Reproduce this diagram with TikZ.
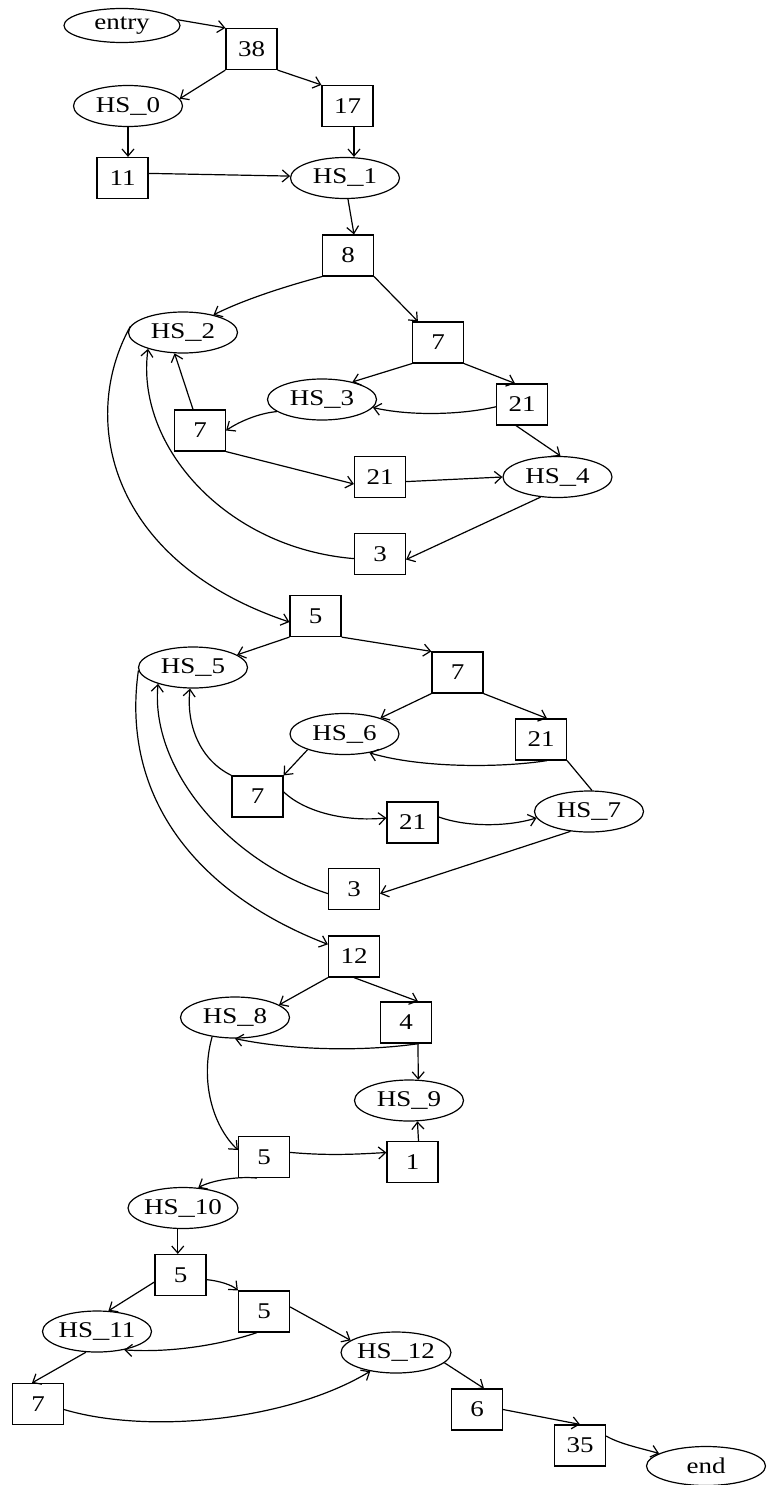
\documentclass[tikz,border=0pt]{standalone}
\usepackage{fontspec}
\usepackage{graphicx}
\setmainfont{Liberation Serif}[FakeStretch=1.2]
\usetikzlibrary{shapes.geometric,arrows.meta}

% slightly wider underscore used in the HS labels
\newcommand\wideus{\scalebox{1.2}[1]{\_}}

\tikzset{
  hsnode/.style={draw, ellipse, minimum width=109pt, minimum height=41pt, inner sep=0pt},
  termnode/.style={draw, ellipse, inner sep=0pt},
  valbox/.style={draw, rectangle, minimum width=51pt, minimum height=41pt, inner sep=0pt},
  flow/.style={-{Straight Barb[length=7pt,width=12pt]}}
}

\begin{document}
\begin{tikzpicture}[x=1pt, y=-1pt, line width=1.2pt, font=\fontsize{22.5}{26}\selectfont]
\useasboundingbox (0,0) rectangle (766,1485);

% nodes
\node[termnode, minimum width=116pt, minimum height=34pt] (entry) at (122,25.5) {entry};
\node[valbox] (n38) at (251.5,49) {38};
\node[hsnode] (hs0) at (128,106) {HS\wideus0};
\node[valbox] (n17) at (347.5,106) {17};
\node[valbox] (n11) at (122.5,178) {11};
\node[hsnode] (hs1) at (345,178) {HS\wideus1};
\node[valbox] (n8) at (348,255.5) {8};
\node[hsnode] (hs2) at (183,332.5) {HS\wideus2};
\node[valbox] (n7a) at (438,342.5) {7};
\node[hsnode] (hs3) at (322,399.5) {HS\wideus3};
\node[valbox] (n21a) at (522,404.5) {21};
\node[valbox] (n7b) at (200,430.5) {7};
\node[valbox] (n21b) at (380,477) {21};
\node[hsnode] (hs4) at (557.5,477) {HS\wideus4};
\node[valbox] (n3a) at (380,554) {3};
\node[valbox] (n5a) at (315.5,616) {5};
\node[hsnode] (hs5) at (193,667.5) {HS\wideus5};
\node[valbox] (n7c) at (457.5,672.5) {7};
\node[hsnode] (hs6) at (344.5,734) {HS\wideus6};
\node[valbox] (n21c) at (541,739.5) {21};
\node[valbox] (n7d) at (257.5,796.5) {7};
\node[valbox] (n21d) at (412.5,822.5) {21};
\node[hsnode] (hs7) at (589,811.5) {HS\wideus7};
\node[valbox] (n3b) at (354,889) {3};
\node[valbox] (n12) at (354,956.5) {12};
\node[hsnode] (hs8) at (235,1017.5) {HS\wideus8};
\node[valbox] (n4) at (406,1022.5) {4};
\node[hsnode] (hs9) at (409,1100.5) {HS\wideus9};
\node[valbox] (n5b) at (264,1157) {5};
\node[valbox] (n1) at (412.5,1162) {1};
\node[hsnode] (hs10) at (183,1208) {HS\wideus10};
\node[valbox] (n5c) at (180.5,1275) {5};
\node[valbox] (n5d) at (264,1311.5) {5};
\node[hsnode] (hs11) at (97,1331.5) {HS\wideus11};
\node[hsnode] (hs12) at (396,1352.5) {HS\wideus12};
\node[valbox] (n7e) at (38,1404) {7};
\node[valbox] (n6) at (477,1409.5) {6};
\node[valbox] (n35) at (580,1445.5) {35};
\node[termnode, minimum width=119pt, minimum height=39pt] (exitnode) at (706,1466) {end};

% connectors
\draw[flow] (entry.6) -- (n38.north west);
\draw[flow] (n38.south west) -- (hs0.8);
\draw[flow] (n38.south east) -- (n17.north west);
\draw[flow] (hs0.south) -- (hs0.south |- n11.north);
\draw[flow] ([xshift=6.5pt]n17.south) -- ([xshift=6.5pt]n17.south |- hs1.north);
\draw[flow] (n11.10) -- (hs1.178);
\draw[flow] (hs1.-82) -- ([xshift=6pt]n8.north);
\draw[flow] (n8.south west) .. controls (290,285) and (245,299) .. (hs2.30);
\draw[flow] (n8.south east) -- ([xshift=6pt]n7a.north west);
\draw[flow] (n7a.south west) -- (hs3.30);
\draw[flow] (n7a.south east) -- ([xshift=-7pt]n21a.north);
\draw[flow] (n21a.185) .. controls (460,415) and (410,416) .. (hs3.-9);
\draw[flow] ([xshift=-6pt]n21a.south) -- (hs4.82);
\draw[flow] (hs3.195) .. controls (260,413) and (240,421) .. (n7b.east);
\draw[flow] ([xshift=-7pt]n7b.north) -- (hs2.248);
\draw[flow] (n7b.south east) -- (n21b.195);
\draw[flow] (n21b.-10) -- (hs4.west);
\draw[flow] (hs4.230) -- (n3a.-12);
\draw[flow] (n3a.190) .. controls (225,548) and (135,445) .. (hs2.205);
\draw[flow] (hs2.173) .. controls (78,420) and (110,562) .. (n5a.193);
\draw[flow] (n5a.south west) -- (hs5.16);
\draw[flow] (n5a.south east) -- (n7c.north west);
\draw[flow] (n7c.south west) -- (hs6.24);
\draw[flow] (n7c.south east) -- ([xshift=6pt]n21c.north);
\draw[flow] ([xshift=6pt]n21c.south) .. controls (500,768) and (420,768) .. (hs6.-37);
\draw (n21c.south east) -- (hs7.82);
\draw[flow] (hs6.203) -- (n7d.north east);
\draw[flow] (n7d.north west) .. controls (200,760) and (186,725) .. (hs5.262);
\draw[flow] (n7d.10) .. controls (305,812) and (345,822) .. (n21d.170);
\draw[flow] (n21d.12) .. controls (470,828) and (510,826) .. (hs7.187);
\draw[flow] (hs7.227) -- (n3b.-10);
\draw[flow] (n3b.190) .. controls (230,862) and (150,770) .. (hs5.205);
\draw[flow] (hs5.183) .. controls (120,800) and (200,895) .. (n12.155);
\draw[flow] (n12.south west) -- (hs8.16);
\draw[flow] (n12.south) -- ([xshift=12pt]n4.north);
\draw[flow] ([xshift=13pt]n4.south) .. controls (360,1052) and (290,1050) .. (hs8.south);
\draw[flow] ([xshift=12pt]n4.south) -- (hs9.66);
\draw[flow] (hs8.220) .. controls (200,1080) and (212,1125) .. (n5b.165);
\draw[flow] (n5b.10) .. controls (330,1156) and (360,1154) .. (n1.160);
\draw[flow] ([xshift=6pt]n1.north) -- (hs9.-68);
\draw[flow] ([xshift=-7pt]n5b.south) .. controls (240,1176) and (212,1180) .. (hs10.53);
\draw[flow] (hs10.-104) -- (hs10.-104 |- n5c.north);
\draw[flow] (n5c.195) -- (hs11.61);
\draw[flow] (n5c.-10) .. controls (220,1281) and (232,1285) .. (n5d.north west);
\draw[flow] (n5d.10) -- (hs12.165);
\draw[flow] ([xshift=-7pt]n5d.south) .. controls (220,1345) and (170,1353) .. (hs11.-34);
\draw[flow] (hs11.-118) -- ([xshift=-6pt]n7e.north);
\draw[flow] (n7e.-12) .. controls (150,1435) and (290,1420) .. (hs12.216);
\draw[flow] (hs12.-12) -- ([xshift=7pt]n6.north);
\draw[flow] (n6.east) -- (n35.north);
\draw[flow] (n35.20) .. controls (620,1444) and (640,1448) .. (exitnode.165);
\end{tikzpicture}
\end{document}
